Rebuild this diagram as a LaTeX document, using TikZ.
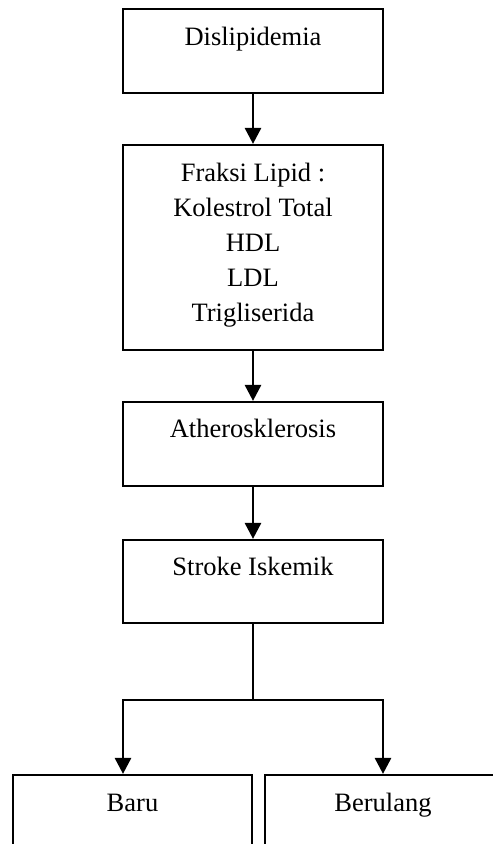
\documentclass[tikz,border=0pt]{standalone}
\usepackage{fontspec}
\setmainfont{Liberation Serif}
\usetikzlibrary{arrows.meta}
\begin{document}
\begin{tikzpicture}[x=1pt,y=-1pt,
  box/.style={draw, line width=2.2pt, rectangle, inner sep=0pt},
  txt/.style={font=\fontsize{26.5}{35}\selectfont, inner sep=0pt, anchor=base},
  arr/.style={line width=2.8pt, -{Triangle[width=16pt,length=16pt]}},
  ln/.style={line width=2.8pt}]
\useasboundingbox (0,0) rectangle (493,844);
\clip (0,0) rectangle (493,844);
% boxes
\node[box, minimum width=260pt, minimum height=84pt]  (b1) at (253,51) {};
\node[box, minimum width=260pt, minimum height=205pt] (b2) at (253,247.5) {};
\node[box, minimum width=260pt, minimum height=84pt]  (b3) at (253,444) {};
\node[box, minimum width=260pt, minimum height=83pt]  (b4) at (253,581.5) {};
\node[box, minimum width=239pt, minimum height=120pt] (b5) at (132.5,835) {};
\node[box, minimum width=236pt, minimum height=120pt] (b6) at (383,835) {};
% texts
\node[txt] (t1) at (253,45) {Dislipidemia};
\node[txt] (t2a) at (253,181.5) {Fraksi Lipid :};
\node[txt] (t2b) at (253,216.5) {Kolestrol Total};
\node[txt] (t2c) at (253,251.5) {HDL};
\node[txt] (t2d) at (253,286.5) {LDL};
\node[txt] (t2e) at (253,321.5) {Trigliserida};
\node[txt] (t3) at (253,437) {Atherosklerosis};
\node[txt] (t4) at (253,575) {Stroke Iskemik};
\node[txt] (t5) at (132.5,811) {Baru};
\node[txt] (t6) at (383,811) {Berulang};
% connectors
\draw[arr] (b1.south) -- (b2.north);
\draw[arr] (b2.south) -- (b3.north);
\draw[arr] (b3.south) -- (b4.north);
\coordinate (j) at (253,700);
\coordinate (jl) at (123,700);
\coordinate (jr) at (383,700);
\draw[ln] (b4.south) -- (j);
\draw[ln, line cap=rect] (jl) -- (jr);
\draw[arr] (jl) -- (jl |- b5.north);
\draw[arr] (jr) -- (jr |- b6.north);
\end{tikzpicture}
\end{document}
